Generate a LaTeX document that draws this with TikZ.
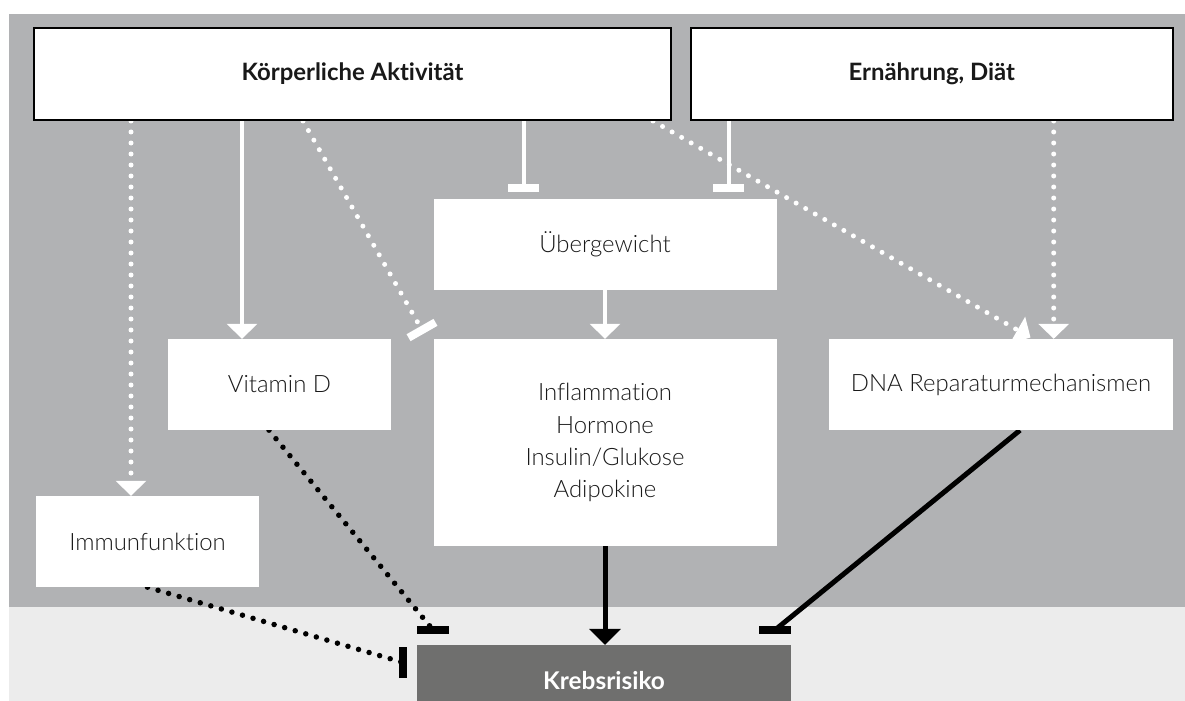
\documentclass[tikz,border=0pt]{standalone}
\usepackage{fontspec}
\newfontfamily\lightfont{Lato Light}[Ligatures={NoCommon}]
\newfontfamily\boldfont{Lato Bold}[Ligatures={NoCommon}]
\usetikzlibrary{arrows.meta}
\pgfdeclarelayer{bg}
\pgfdeclarelayer{conn}
\pgfsetlayers{bg,conn,main}
\definecolor{panel}{RGB}{177,178,180}
\definecolor{floor}{RGB}{236,236,236}
\definecolor{riskbox}{RGB}{111,111,110}
\begin{document}
\begin{tikzpicture}[x=1bp,y=-1bp,
  plain/.style={fill=white, inner sep=0pt, align=center, text=black!90,
    font=\lightfont\fontsize{24}{32.3}\selectfont},
  topbox/.style={plain, draw=black, line width=2bp,
    font=\boldfont\fontsize{24}{28}\selectfont},
  riskstyle/.style={fill=riskbox, text=white, inner sep=0pt,
    font=\boldfont\fontsize{24.5}{28}\selectfont},
  wsolid/.style={draw=white, line width=4bp},
  wdot/.style={draw=white, line width=5bp, line cap=round, dash pattern=on 0bp off 11bp},
  bsolid/.style={draw=black, line width=5bp},
  bdot/.style={draw=black, line width=5.5bp, line cap=round, dash pattern=on 0bp off 11bp},
  wtip/.style={-{Triangle[length=15bp,width=30bp]}},
  btip/.style={-{Triangle[length=16bp,width=31bp]}},
  wbar/.style={-{Bar[width=31bp,line width=8bp]}},
  tbar/.style={draw=black, line width=8bp},
]
\useasboundingbox (0,0) rectangle (1185,701);
\begin{pgfonlayer}{bg}
  \fill[white] (0,0) rectangle (1185,701);
  \fill[panel] (9,14) rectangle (1185,607);
  \fill[floor] (9,607) rectangle (1185,701);
\end{pgfonlayer}

\node[topbox, minimum width=636bp, minimum height=92bp] (box1) at (352.5,74) {Körperliche Aktivität};
\node[topbox, minimum width=482.4bp, minimum height=92bp] (box2) at (931.8,74) {Ernährung, Diät};
\node[plain, minimum width=343bp, minimum height=91bp] (ueber) at (605,244.5) {Übergewicht};
\node[plain, minimum width=223bp, minimum height=91bp] (vitd) at (279.5,384.5) {Vitamin D};
\node[plain, minimum width=343bp, minimum height=207bp] (infl) at (605,442.5) {Inflammation\\Hormone\\Insulin/Glukose\\Adipokine};
\node[plain, minimum width=344bp, minimum height=91bp] (dna) at (1001,384.5) {DNA Reparaturmechanismen};
\node[plain, minimum width=223bp, minimum height=91bp] (immun) at (147.5,541.5) {Immunfunktion};
\node[riskstyle, minimum width=374bp, minimum height=72bp] (krebs) at (604,681) {Krebsrisiko};

\coordinate (xa) at (131,0);
\coordinate (xb) at (242,0);
\coordinate (xc) at (523.5,0);
\coordinate (xd) at (728.5,0);
\coordinate (xe) at (1053.7,0);
\coordinate (xf) at (303,0);
\coordinate (xg) at (653,0);
\coordinate (xh) at (269,0);
\coordinate (xi) at (1020,0);
\coordinate (infbar) at (424,333.5);
\coordinate (dnatip) at (1030.5,337.5);
\coordinate (vbar) at (433,630);
\coordinate (ibar) at (403,662.5);
\coordinate (dbar) at (775,630);

\begin{pgfonlayer}{conn}
  \draw[wdot,wtip] (xa |- box1.south) -- (xa |- immun.north);
  \draw[wsolid,wtip] (xb |- box1.south) -- (xb |- vitd.north);
  \draw[wsolid,wbar,shorten >=7bp] (xc |- box1.south) -- (xc |- ueber.north);
  \draw[wsolid,wbar,shorten >=7bp] (xd |- box2.south) -- (xd |- ueber.north);
  \draw[wdot,wtip] (xe |- box2.south) -- (xe |- dna.north);
  \draw[wdot,wbar] (xf |- box1.south) -- (infbar);
  \draw[wdot,wtip] (xg |- box1.south) -- (dnatip);
  \draw[wsolid,wtip] (ueber.south) -- (infl.north);
  \draw[bsolid,btip] (infl.south) -- (infl.south |- krebs.north);
  \draw[bdot] (xh |- vitd.south) -- (vbar);
  \draw[bdot] (immun.south) -- (ibar);
  \draw[bsolid] (xi |- dna.south) -- (dbar);
  \draw[tbar] ([xshift=-15.75bp]vbar) -- ([xshift=15.75bp]vbar);
  \draw[tbar] ([yshift=-15.5bp]ibar) -- ([yshift=15.5bp]ibar);
  \draw[tbar] ([xshift=-15.75bp]dbar) -- ([xshift=15.75bp]dbar);
\end{pgfonlayer}
\end{tikzpicture}
\end{document}
